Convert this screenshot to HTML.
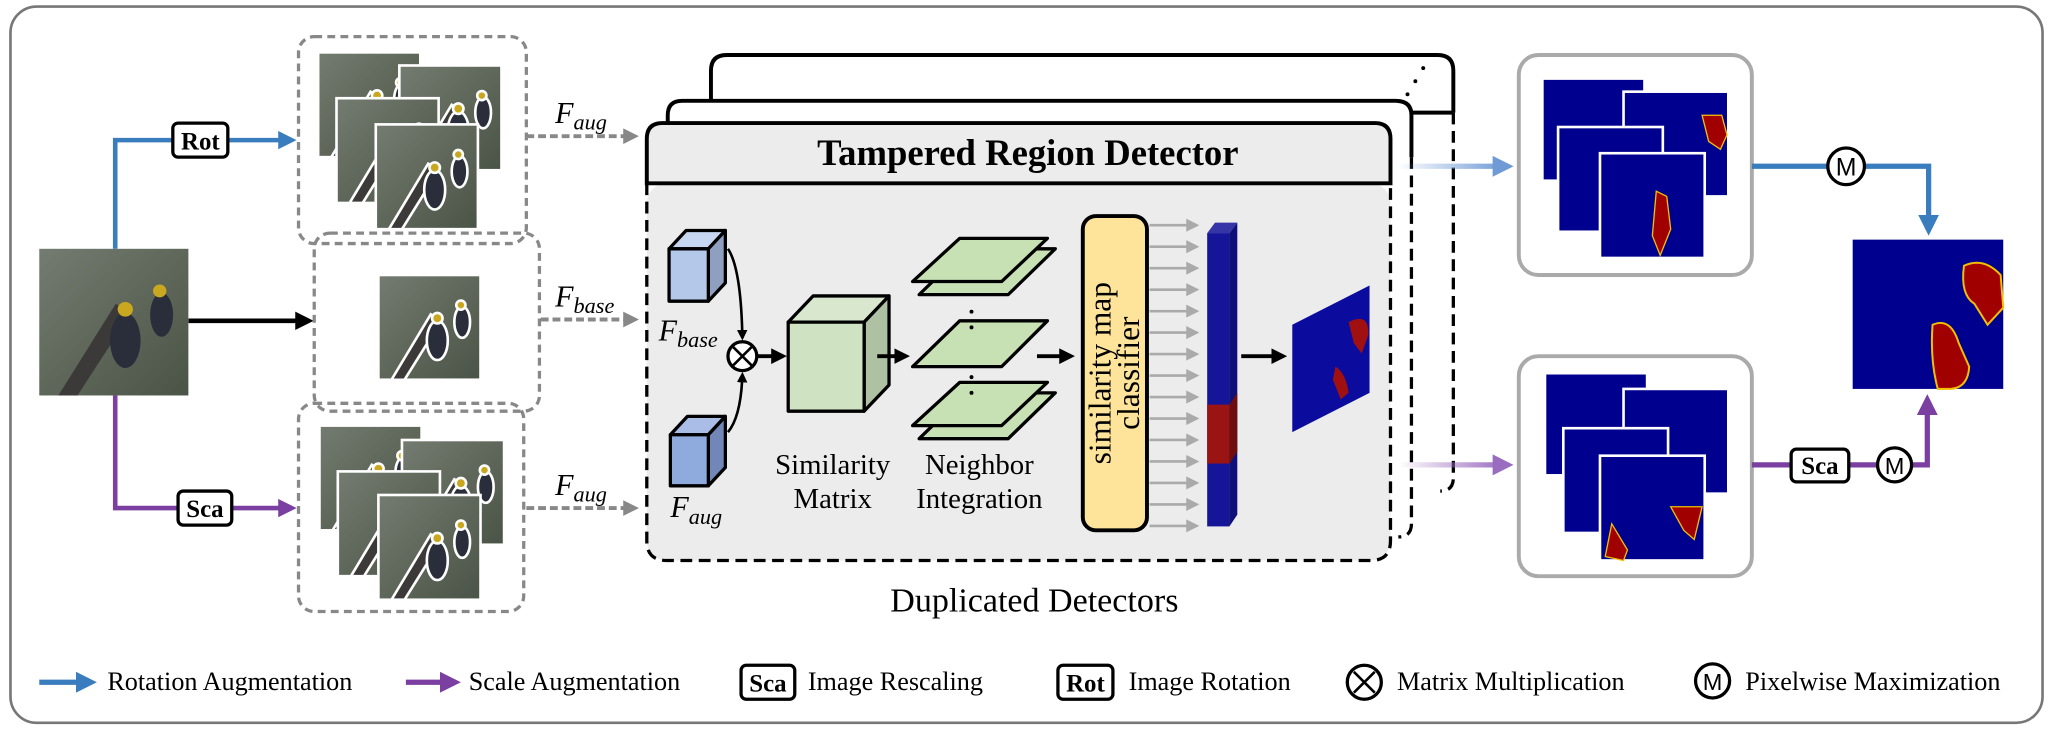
<!DOCTYPE html>
<html><head><meta charset="utf-8"><style>
html,body{margin:0;padding:0;background:#fff;}
svg{display:block;}
svg text{font-family:"Liberation Serif","Noto Serif CJK SC","DejaVu Serif",serif;}
svg text.ms{font-family:"Liberation Sans","DejaVu Sans",sans-serif;}
</style></head><body>
<svg width="2053" height="732" viewBox="0 0 1568 559" preserveAspectRatio="none" xmlns="http://www.w3.org/2000/svg">
<defs>
<marker id="ab" markerWidth="4" markerHeight="4" refX="3" refY="2" orient="auto" markerUnits="strokeWidth"><path d="M0,0L4,2L0,4z" fill="#3a7dbf"/></marker>
<marker id="ap" markerWidth="4" markerHeight="4" refX="3" refY="2" orient="auto" markerUnits="strokeWidth"><path d="M0,0L4,2L0,4z" fill="#7a3fa0"/></marker>
<marker id="ak" markerWidth="4" markerHeight="4" refX="3" refY="2" orient="auto" markerUnits="strokeWidth"><path d="M0,0L4,2L0,4z" fill="#000"/></marker>
<marker id="ag" markerWidth="4" markerHeight="4" refX="3" refY="2" orient="auto" markerUnits="strokeWidth"><path d="M0,0L4,2L0,4z" fill="#888"/></marker>
<marker id="ag2" markerWidth="5" markerHeight="5" refX="4" refY="2.5" orient="auto" markerUnits="strokeWidth"><path d="M0,0L5,2.5L0,5z" fill="#aaa"/></marker>
<marker id="afb" markerWidth="4" markerHeight="4" refX="3" refY="2" orient="auto" markerUnits="strokeWidth"><path d="M0,0L4,2L0,4z" fill="#6f9ad6"/></marker>
<marker id="afp" markerWidth="4" markerHeight="4" refX="3" refY="2" orient="auto" markerUnits="strokeWidth"><path d="M0,0L4,2L0,4z" fill="#9a6cc0"/></marker>
<linearGradient id="fb" gradientUnits="userSpaceOnUse" x1="1068" y1="0" x2="1150" y2="0"><stop offset="0" stop-color="#6f9ad6" stop-opacity="0"/><stop offset="1" stop-color="#6f9ad6"/></linearGradient>
<linearGradient id="fp" gradientUnits="userSpaceOnUse" x1="1068" y1="0" x2="1150" y2="0"><stop offset="0" stop-color="#9a6cc0" stop-opacity="0"/><stop offset="1" stop-color="#9a6cc0"/></linearGradient>
<linearGradient id="bird" x1="0" y1="0" x2="1" y2="1"><stop offset="0" stop-color="#747c72"/><stop offset="0.5" stop-color="#5f675a"/><stop offset="1" stop-color="#4a5446"/></linearGradient>
<g id="bimg"><rect width="78" height="80" fill="url(#bird)"/><path d="M10,80 L40,30 L48,35 L20,80z" fill="#3b3a38"/><ellipse cx="45" cy="50" rx="8" ry="15" fill="#2a2e3a"/><circle cx="45" cy="33" r="4" fill="#c9a820"/><ellipse cx="64" cy="36" rx="6" ry="12" fill="#2a2e3a"/><circle cx="63" cy="23" r="3.5" fill="#c9a820"/></g>
</defs>

<rect x="8" y="5" width="1552" height="547" rx="20" fill="#fff" stroke="#777" stroke-width="2"/>

<g transform="translate(30,190) scale(1.46,1.4)"><use href="#bimg"/></g>

<path d="M88,190 V107 H223" fill="none" stroke="#3a7dbf" stroke-width="3.5" marker-end="url(#ab)"/>
<path d="M88,302 V388 H223" fill="none" stroke="#7a3fa0" stroke-width="3.5" marker-end="url(#ap)"/>
<path d="M144,245 H236" stroke="#000" stroke-width="3.5" marker-end="url(#ak)"/>
<rect x="132" y="94" width="42" height="26" rx="4" fill="#fff" stroke="#000" stroke-width="2.5"/>
<text x="153" y="114" font-size="19" font-weight="bold" text-anchor="middle">Rot</text>
<rect x="136" y="375" width="41" height="26" rx="4" fill="#fff" stroke="#000" stroke-width="2.5"/>
<text x="156.5" y="395" font-size="19" font-weight="bold" text-anchor="middle">Sca</text>

<rect x="228" y="28" width="174" height="158" rx="12" fill="none" stroke="#888" stroke-width="2.5" stroke-dasharray="6,4"/>
<rect x="240" y="178" width="172" height="136" rx="12" fill="none" stroke="#888" stroke-width="2.5" stroke-dasharray="6,4"/>
<rect x="228" y="308" width="172" height="159" rx="12" fill="none" stroke="#888" stroke-width="2.5" stroke-dasharray="6,4"/>
<g stroke="#fff" stroke-width="2">
<use href="#bimg" x="243" y="40"/><use href="#bimg" x="305" y="50"/><use href="#bimg" x="257" y="75"/><use href="#bimg" x="287" y="95"/>
<use href="#bimg" x="289" y="210"/>
<use href="#bimg" x="244" y="325"/><use href="#bimg" x="307" y="336"/><use href="#bimg" x="258" y="360"/><use href="#bimg" x="289" y="378"/>
</g>

<g stroke="#888" stroke-width="3" stroke-dasharray="6,3">
<path d="M402,104 H485" marker-end="url(#ag)"/><path d="M413,244 H485" marker-end="url(#ag)"/><path d="M402,388 H485" marker-end="url(#ag)"/>
</g>
<g font-size="23" font-style="italic">
<text x="424" y="94">F<tspan font-size="17" dy="5">aug</tspan></text>
<text x="424" y="234">F<tspan font-size="17" dy="5">base</tspan></text>
<text x="424" y="378">F<tspan font-size="17" dy="5">aug</tspan></text>
</g>

<path d="M543,86 V54 Q543,42 555,42 H1098 Q1110,42 1110,54 V86" fill="#fff" stroke="#000" stroke-width="3"/>
<path d="M1110,86 V365 Q1110,375 1100,375" fill="none" stroke="#000" stroke-width="2.5" stroke-dasharray="9,5"/>
<path d="M1078,86 H1110" stroke="#000" stroke-width="3"/>
<circle cx="1087" cy="52" r="1.5"/><circle cx="1081" cy="62" r="1.5"/><circle cx="1075" cy="72" r="1.5"/>
<path d="M510,120 V88 Q510,77 521,77 H1066 Q1078,77 1078,88 V120" fill="#fff" stroke="#000" stroke-width="3"/>
<path d="M1078,120 V400 Q1078,410 1068,410" fill="none" stroke="#000" stroke-width="2.5" stroke-dasharray="9,5"/>
<rect x="494" y="140" width="568" height="288" rx="15" fill="#ececec"/>
<path d="M494,140 V413 Q494,428 509,428 H1047 Q1062,428 1062,413 V140" fill="none" stroke="#000" stroke-width="2.5" stroke-dasharray="9,5"/>
<path d="M494,140 V106 Q494,94 506,94 H1050 Q1062,94 1062,106 V140 Z" fill="#ececec" stroke="#000" stroke-width="3"/>
<text x="785" y="126" font-size="28" font-weight="bold" text-anchor="middle">Tampered Region  Detector</text>

<g stroke="#000" stroke-width="2.5" stroke-linejoin="round">
<path d="M511,190 L524,176 H554 L541,190Z" fill="#c6d6f0"/><path d="M541,190 L554,176 V216 L541,230Z" fill="#8e9fbf"/><rect x="511" y="190" width="30" height="40" fill="#b4c8ea"/>
<path d="M512,332 L525,318 H554 L541,332Z" fill="#a9bde6"/><path d="M541,332 L554,318 V357 L541,371Z" fill="#7287b8"/><rect x="512" y="332" width="29" height="39" fill="#8faadd"/>
<path d="M602,246 L621,226 H679 L660,246Z" fill="#d9e7cf"/><path d="M660,246 L679,226 V294 L660,314Z" fill="#aec2a3"/><rect x="602" y="246" width="58" height="68" fill="#cfe2c2"/>
<g fill="#c8e1b4">
<path d="M702,225 L738,190 H806 L770,225Z"/><path d="M697,215 L733,182 H800 L765,215Z"/>
<path d="M697,280 L733,245 H800 L765,280Z"/>
<path d="M702,335 L738,300 H806 L770,335Z"/><path d="M697,325 L733,292 H800 L765,325Z"/>
</g>
</g>
<g fill="#000"><circle cx="742" cy="238" r="1.5"/><circle cx="742" cy="250" r="1.5"/><circle cx="742" cy="288" r="1.5"/><circle cx="742" cy="300" r="1.5"/></g>
<path d="M556,190 Q566,205 567,258" fill="none" stroke="#000" stroke-width="2" marker-end="url(#ak)"/>
<path d="M556,330 Q566,318 567,286" fill="none" stroke="#000" stroke-width="2" marker-end="url(#ak)"/>
<circle cx="567" cy="272" r="11" fill="#fff" stroke="#000" stroke-width="2.5"/>
<path d="M560,265 L574,279 M574,265 L560,279" stroke="#000" stroke-width="2"/>
<path d="M578,272 H598" stroke="#000" stroke-width="3" marker-end="url(#ak)"/>
<path d="M670,272 H692" stroke="#000" stroke-width="3" marker-end="url(#ak)"/>
<path d="M792,272 H818" stroke="#000" stroke-width="3" marker-end="url(#ak)"/>
<path d="M948,272 H980" stroke="#000" stroke-width="3" marker-end="url(#ak)"/>
<text x="503" y="260" font-style="italic" font-size="23">F<tspan font-size="17" dy="5">base</tspan></text>
<text x="512" y="395" font-style="italic" font-size="23">F<tspan font-size="17" dy="5">aug</tspan></text>
<g font-size="22" text-anchor="middle">
<text x="636" y="362">Similarity</text><text x="636" y="388">Matrix</text>
<text x="748" y="362">Neighbor</text><text x="748" y="388">Integration</text>
</g>
<rect x="827" y="165" width="49" height="240" rx="10" fill="#fde49a" stroke="#000" stroke-width="3"/>
<g transform="translate(851,285) rotate(-90)" font-size="24" text-anchor="middle"><text y="-3">similarity map</text><text y="19">classifier</text></g>
<g stroke="#aaa" stroke-width="2">
<path d="M878,172H914" marker-end="url(#ag2)"/><path d="M878,188.4H914" marker-end="url(#ag2)"/><path d="M878,204.8H914" marker-end="url(#ag2)"/><path d="M878,221.2H914" marker-end="url(#ag2)"/><path d="M878,237.6H914" marker-end="url(#ag2)"/><path d="M878,254H914" marker-end="url(#ag2)"/><path d="M878,270.4H914" marker-end="url(#ag2)"/><path d="M878,286.8H914" marker-end="url(#ag2)"/><path d="M878,303.2H914" marker-end="url(#ag2)"/><path d="M878,319.6H914" marker-end="url(#ag2)"/><path d="M878,336H914" marker-end="url(#ag2)"/><path d="M878,352.4H914" marker-end="url(#ag2)"/><path d="M878,368.8H914" marker-end="url(#ag2)"/><path d="M878,385.2H914" marker-end="url(#ag2)"/><path d="M878,401.6H914" marker-end="url(#ag2)"/>
</g>
<path d="M922,178 L928,170 H945 L939,178Z" fill="#3535a8"/>
<path d="M939,178 L945,170 V393 L939,402Z" fill="#10107a"/>
<rect x="922" y="178" width="17" height="224" fill="#151598"/>
<rect x="922" y="309" width="17" height="45" fill="#9a1414"/>
<path d="M939,309 L945,300 V345 L939,354Z" fill="#6e0e0e"/>
<path d="M987,248 L1046,218 V300 L987,330Z" fill="#0b0b9e"/>
<path d="M1030,246 Q1046,238 1045,256 L1040,270 L1034,262Z M1020,280 Q1028,285 1030,300 L1024,305 L1018,290Z" fill="#a01010"/>
<text x="790" y="467" font-size="26" text-anchor="middle">Duplicated Detectors</text>

<path d="M1068,127 H1152" stroke="url(#fb)" stroke-width="4" marker-end="url(#afb)"/>
<path d="M1068,355 H1152" stroke="url(#fp)" stroke-width="4" marker-end="url(#afp)"/>

<rect x="1160" y="42" width="178" height="168" rx="15" fill="#fff" stroke="#aaa" stroke-width="3"/>
<rect x="1160" y="272" width="178" height="168" rx="15" fill="#fff" stroke="#aaa" stroke-width="3"/>
<g stroke="#fff" stroke-width="2">
<rect x="1178" y="60" width="78" height="78" fill="#00008e"/><rect x="1240" y="70" width="80" height="80" fill="#00008e"/><rect x="1190" y="97" width="80" height="80" fill="#00008e"/><rect x="1222" y="117" width="80" height="80" fill="#00008e"/>
<rect x="1180" y="285" width="78" height="78" fill="#00008e"/><rect x="1240" y="297" width="80" height="80" fill="#00008e"/><rect x="1194" y="327" width="80" height="80" fill="#00008e"/><rect x="1222" y="348" width="80" height="80" fill="#00008e"/>
</g>
<g fill="#a00000" stroke="#f3c000" stroke-width="1">
<path d="M1300,88 L1315,88 L1319,103 L1314,114 L1305,108 Z"/>
<path d="M1265,146 L1273,150 L1276,175 L1268,195 L1262,180 Z"/>
<path d="M1276,387 L1300,387 L1294,412 L1286,405 Z"/>
<path d="M1231,400 L1243,420 L1240,428 L1226,425 Z"/>
</g>
<rect x="1415" y="183" width="115" height="114" fill="#00008e"/>
<g fill="#a00000" stroke="#f3c000" stroke-width="1.5">
<path d="M1500,203 Q1515,196 1528,210 L1530,235 L1518,248 L1508,232 Q1497,225 1500,203Z"/>
<path d="M1476,248 Q1490,242 1496,262 L1504,280 Q1503,296 1490,297 L1480,297 Q1474,275 1476,248Z"/>
</g>
<path d="M1338,127 H1473 V176" fill="none" stroke="#3a7dbf" stroke-width="4" marker-end="url(#ab)"/>
<path d="M1338,355 H1472 V305" fill="none" stroke="#7a3fa0" stroke-width="4" marker-end="url(#ap)"/>
<circle cx="1410" cy="127" r="14" fill="#fff" stroke="#000" stroke-width="2.5"/>
<text class="ms" x="1410" y="134" font-size="19" text-anchor="middle">M</text>
<rect x="1368" y="343" width="44" height="25" rx="4" fill="#fff" stroke="#000" stroke-width="2.5"/>
<text x="1390" y="362" font-size="19" font-weight="bold" text-anchor="middle">Sca</text>
<circle cx="1447" cy="355" r="13" fill="#fff" stroke="#000" stroke-width="2.5"/>
<text class="ms" x="1447" y="362" font-size="18" text-anchor="middle">M</text>

<path d="M30,521 H70" stroke="#3a7dbf" stroke-width="4" marker-end="url(#ab)"/>
<text x="82" y="527" font-size="20">Rotation Augmentation</text>
<path d="M310,521 H348" stroke="#7a3fa0" stroke-width="4" marker-end="url(#ap)"/>
<text x="358" y="527" font-size="20">Scale Augmentation</text>
<rect x="566" y="508" width="41" height="26" rx="4" fill="#fff" stroke="#000" stroke-width="2.5"/>
<text x="586.5" y="528" font-size="19" font-weight="bold" text-anchor="middle">Sca</text>
<text x="617" y="527" font-size="20">Image Rescaling</text>
<rect x="808" y="508" width="42" height="26" rx="4" fill="#fff" stroke="#000" stroke-width="2.5"/>
<text x="829" y="528" font-size="19" font-weight="bold" text-anchor="middle">Rot</text>
<text x="862" y="527" font-size="20">Image Rotation</text>
<circle cx="1042" cy="521" r="13" fill="#fff" stroke="#000" stroke-width="2.5"/>
<path d="M1034,513 L1050,529 M1050,513 L1034,529" stroke="#000" stroke-width="2"/>
<text x="1067" y="527" font-size="20">Matrix Multiplication</text>
<circle cx="1308" cy="520" r="13" fill="#fff" stroke="#000" stroke-width="2.5"/>
<text class="ms" x="1308" y="527" font-size="18" text-anchor="middle">M</text>
<text x="1333" y="527" font-size="20">Pixelwise Maximization</text>
</svg>
</body></html>
